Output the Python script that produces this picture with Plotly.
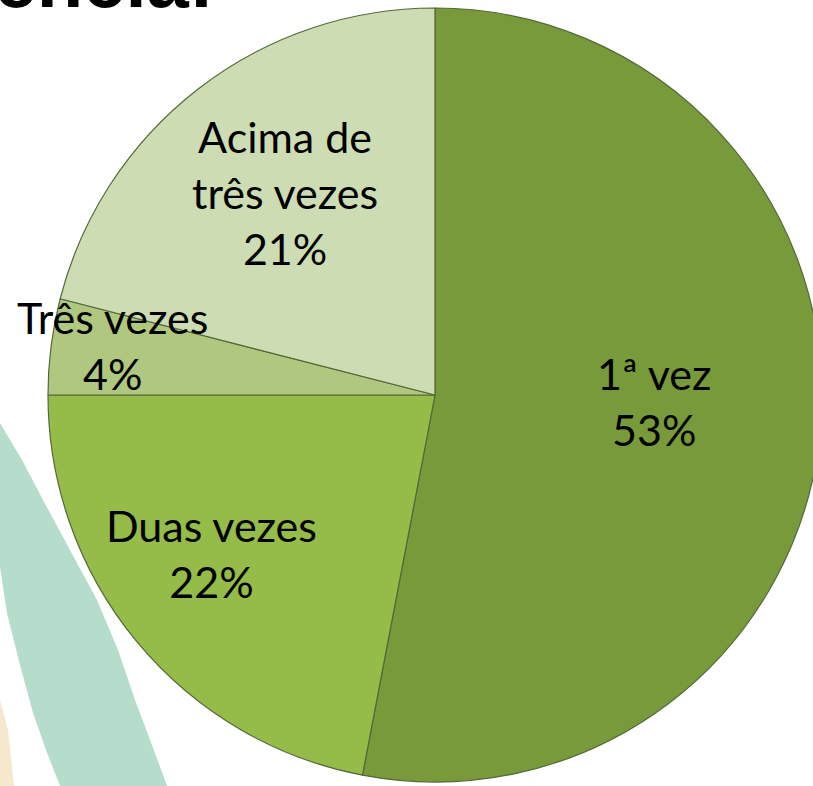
import plotly.graph_objects as go

# ---- data ----
categories = ["1ª vez", "Duas vezes", "Três vezes", "Acima de três vezes"]
display_labels = ["1ª vez", "Duas vezes", "Três vezes", "Acima de<br>três vezes"]
values = [53, 22, 4, 21]
title_text = "Reincidência:"

# ---- styling / layout ----
colors = ["#789a3b", "#95bb48", "#b0c77f", "#cddcb2"]
W, H = 830, 786            # figure is a bit wider than the window (pie is cropped on the right)
cx, cy, R = 435, 395, 387  # pie centre / radius in pixels (y from top)
label_px = [(654, 402), (211, 553), (112, 345), (285, 193)]


def px(x, y):
    """pixel (from top-left) -> paper coords"""
    return x / W, 1 - y / H


fig = go.Figure(
    go.Pie(
        labels=categories,
        values=values,
        sort=False,
        direction="clockwise",
        rotation=0,
        marker=dict(colors=colors, line=dict(color="#55683a", width=1.2)),
        textinfo="none",
        hoverinfo="skip",
        showlegend=False,
        domain=dict(x=[(cx - R) / W, (cx + R) / W],
                    y=[(H - cy - R) / H, (H - cy + R) / H]),
    )
)

annotations = []
for lab, v, (lx, ly) in zip(display_labels, values, label_px):
    x, y = px(lx, ly)
    annotations.append(dict(
        text=f"{lab}<br>{v}%", x=x, y=y, xref="paper", yref="paper",
        xanchor="center", yanchor="middle", showarrow=False,
        font=dict(family="Lato", size=43, color="#000000"),
    ))

# cropped slide title at the very top
tx, ty = px(216, 7 + 0.22 * 76 + 1)
annotations.append(dict(
    text=f"<b>{title_text}</b>", x=tx, y=ty, xref="paper", yref="paper",
    xanchor="right", yanchor="bottom", showarrow=False,
    font=dict(family="Liberation Sans", size=76, color="#000000"),
))


def path(points):
    pts = [px(x, y) for x, y in points]
    return "M " + " L ".join(f"{x:.4f},{y:.4f}" for x, y in pts) + " Z"


band = [(0, 423), (22, 460), (43, 500), (70, 550), (97, 600), (118, 650),
        (135, 700), (152, 745), (167, 786), (60, 786), (46, 750), (33, 713),
        (20, 665), (7, 613), (0, 567)]
strip = [(0, 700), (8, 730), (14, 786), (0, 786)]

shapes = [
    dict(type="path", path=path(band), xref="paper", yref="paper",
         fillcolor="#b6dccb", line=dict(width=0), layer="below"),
    dict(type="path", path=path(strip), xref="paper", yref="paper",
         fillcolor="#f6e8cc", line=dict(width=0), layer="below"),
]

fig.update_layout(
    width=W, height=H,
    margin=dict(l=0, r=0, t=0, b=0),
    paper_bgcolor="#ffffff",
    plot_bgcolor="#ffffff",
    annotations=annotations,
    shapes=shapes,
)

fig.write_html(
    "out.html",
    config={"displayModeBar": False},
    post_script="document.body.style.margin='0';"
                "document.body.style.overflow='hidden';"
                "document.documentElement.style.overflow='hidden';",
)
